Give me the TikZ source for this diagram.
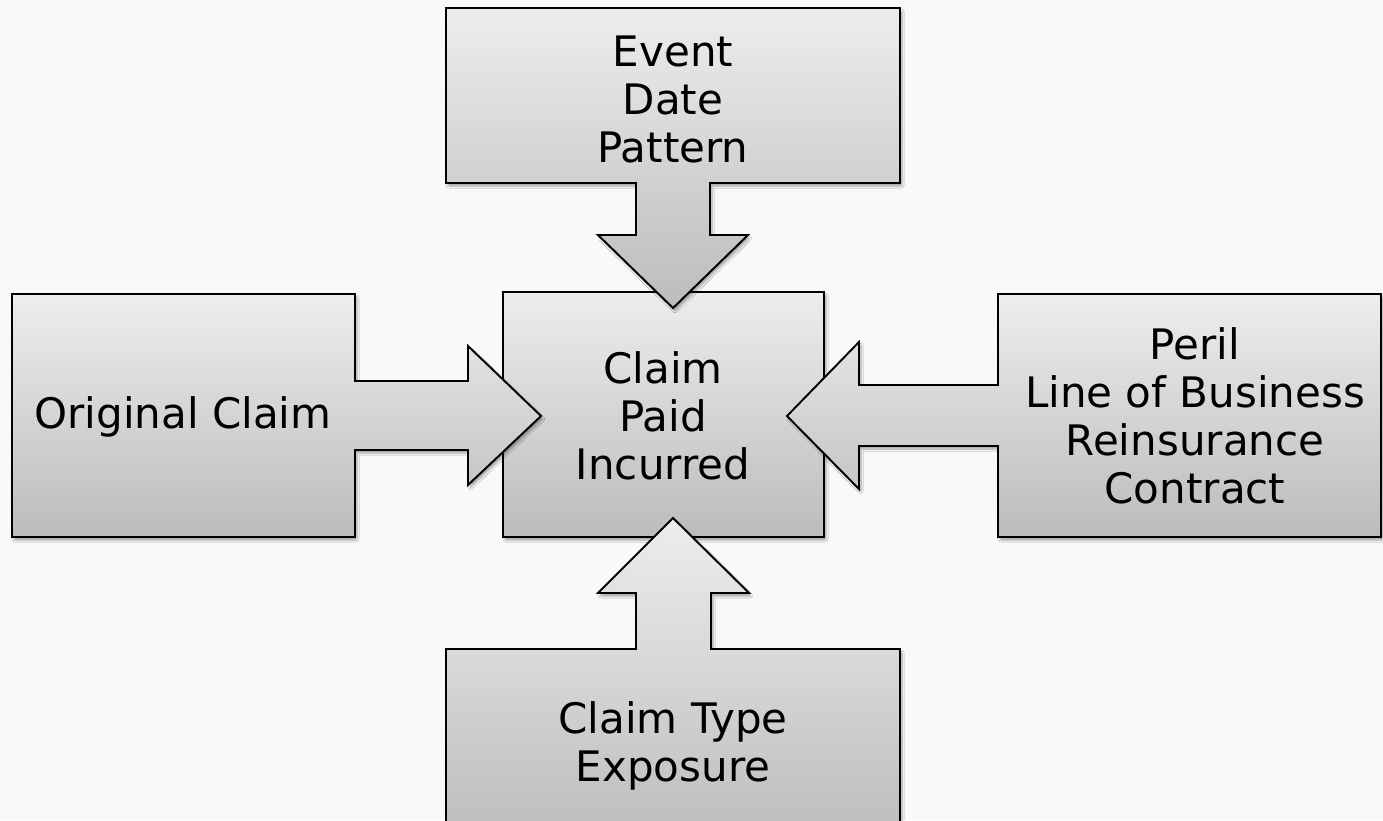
\documentclass[tikz,border=0pt]{standalone}
\usepackage{fontspec}
\setmainfont{DejaVu Sans}
\usetikzlibrary{shadows.blur}
\definecolor{bg}{HTML}{F9F9F7}
\definecolor{gtop}{HTML}{EDEDED}
\definecolor{gbot}{HTML}{BCBCBC}
\tikzset{
  calloutbox/.style={draw=black, line width=1.9pt, line join=miter,
    top color=gtop, bottom color=gbot,
    blur shadow={shadow xshift=2pt, shadow yshift=-3pt, shadow blur steps=6,
      shadow blur extra rounding=1pt, shadow opacity=35}},
  lbl/.style={align=center, font=\fontsize{42}{48}\selectfont, inner sep=0pt, text=black}
}
\begin{document}
\begin{tikzpicture}[x=1pt, y=-1pt]
\fill[bg] (0,0) rectangle (1383,820);
\useasboundingbox (0,0) rectangle (1383,820);
\begin{scope}
\clip (0,0) rectangle (1383,820);
% center box
\path[calloutbox] (503,292) rectangle (824,537);
% top callout
\path[calloutbox] (446,8) -- (900,8) -- (900,183) -- (710,183) -- (710,235) -- (748,235)
  -- (673,308) -- (598,235) -- (636,235) -- (636,183) -- (446,183) -- cycle;
% left callout
\path[calloutbox] (12,294) -- (355,294) -- (355,381) -- (468,381) -- (468,346) -- (541,416)
  -- (468,485) -- (468,450) -- (355,450) -- (355,537) -- (12,537) -- cycle;
% right callout
\path[calloutbox] (1381,294) -- (998,294) -- (998,385) -- (859,385) -- (859,342) -- (787,416)
  -- (859,489) -- (859,446) -- (998,446) -- (998,537) -- (1381,537) -- cycle;
% bottom callout
\path[calloutbox] (446,649) -- (636,649) -- (636,593) -- (598,593) -- (673,518) -- (749,593)
  -- (711,593) -- (711,649) -- (900,649) -- (900,845) -- (446,845) -- cycle;
\end{scope}
\node[lbl] (event) at (673,99) {Event\\Date\\Pattern};
\node[lbl] (orig) at (183,417) {Original Claim};
\node[lbl] (claim) at (663,416) {Claim\\Paid\\Incurred};
\node[lbl] (peril) at (1195,416) {Peril\\Line of Business\\Reinsurance\\Contract};
\node[lbl] (ctype) at (673,746) {Claim Type\\Exposure};
\end{tikzpicture}
\end{document}
